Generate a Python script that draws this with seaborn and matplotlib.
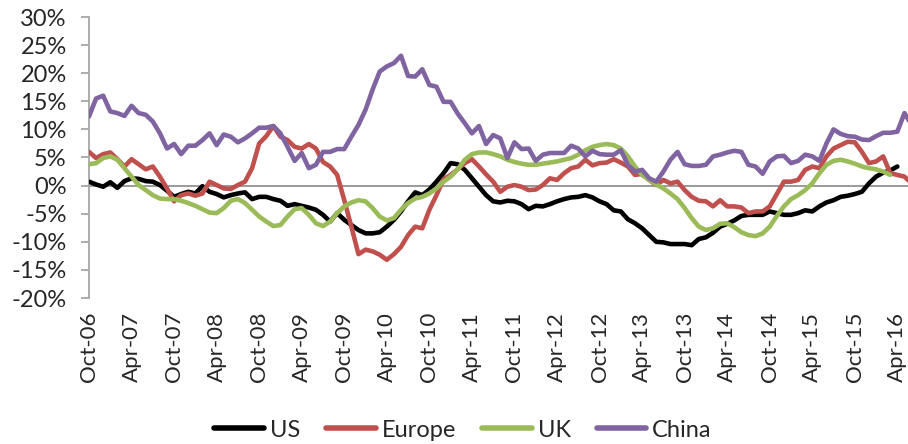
import numpy as np
import pandas as pd
import matplotlib
matplotlib.use("Agg")
import matplotlib.pyplot as plt
import seaborn as sns

# monthly series, Oct-06 .. Jun-16 (values in %)
months = pd.date_range("2006-10-01", periods=117, freq="MS")

us = [0.7, 0.2, -0.2, 0.6, -0.4, 0.8, 1.3, 1.2, 0.8, 0.7,
      0.1, -0.9, -2.0, -1.5, -1.1, -1.4, -0.1, -1.1, -1.5, -2.1,
      -1.7, -1.4, -1.2, -2.4, -2.0, -2.0, -2.4, -2.7, -3.6, -3.3,
      -3.6, -3.9, -4.3, -5.2, -6.4, -4.9, -6.1, -7.0, -7.9, -8.5,
      -8.5, -8.3, -7.3, -6.1, -4.6, -2.8, -1.2, -1.7, -0.7, 0.7,
      2.2, 4.0, 3.8, 2.8, 1.3, -0.2, -1.7, -2.8, -3.0, -2.7,
      -2.8, -3.3, -4.2, -3.6, -3.7, -3.3, -2.8, -2.4, -2.1, -2.0,
      -1.7, -2.1, -2.8, -3.3, -4.4, -4.6, -6.0, -6.7, -7.6, -8.8,
      -10.0, -10.1, -10.4, -10.4, -10.4, -10.6, -9.5, -9.2, -8.4, -7.3,
      -6.8, -6.2, -5.4, -5.2, -5.2, -5.2, -4.6, -4.9, -5.2, -5.2,
      -4.9, -4.4, -4.6, -3.7, -3.0, -2.6, -2.0, -1.8, -1.5, -1.1,
      0.4, 1.6, 2.3, 2.7, 3.4] + [np.nan] * 2

europe = [6.0, 4.9, 5.6, 5.9, 4.7, 3.4, 4.7, 3.8, 2.9, 3.4,
          1.6, -0.5, -2.8, -1.7, -1.4, -1.8, -1.4, 0.7, 0.1, -0.5,
          -0.6, 0.1, 0.7, 3.1, 7.5, 8.8, 10.6, 8.7, 8.1, 6.9,
          6.6, 7.4, 6.6, 4.2, 3.4, 1.9, -2.6, -7.3, -12.2, -11.4,
          -11.7, -12.3, -13.2, -12.2, -10.9, -8.8, -7.3, -7.6, -4.3, -1.7,
          1.1, 1.9, 2.9, 4.0, 4.7, 3.4, 2.0, 0.7, -1.1, -0.2,
          0.1, -0.2, -0.8, -0.7, 0.1, 1.3, 1.0, 2.2, 3.1, 3.4,
          4.6, 3.6, 4.0, 4.1, 4.7, 4.1, 3.4, 1.9, 2.1, 1.0,
          0.1, 1.0, 0.4, 0.7, -0.8, -2.0, -2.7, -2.8, -3.7, -2.6,
          -3.7, -3.7, -3.9, -4.9, -4.6, -4.6, -3.7, -1.5, 0.7, 0.7,
          1.0, 2.8, 3.4, 3.1, 5.2, 6.6, 7.2, 7.8, 7.7, 6.0,
          4.0, 4.3, 5.2, 2.2, 1.9, 1.6, 0.4]

uk = [3.8, 4.0, 4.9, 5.2, 4.6, 3.1, 1.6, 0.1, -0.8, -1.7,
      -2.3, -2.4, -2.4, -2.7, -3.1, -3.6, -4.2, -4.8, -4.9, -4.0,
      -2.7, -2.4, -3.1, -4.3, -5.5, -6.4, -7.2, -7.0, -5.5, -4.2,
      -4.0, -5.2, -6.7, -7.2, -6.4, -4.9, -3.7, -3.0, -2.6, -2.8,
      -4.0, -5.5, -6.2, -5.8, -4.3, -3.1, -2.3, -2.0, -1.4, -0.5,
      0.7, 1.6, 2.9, 4.6, 5.6, 5.9, 5.9, 5.6, 5.2, 4.6,
      4.2, 3.9, 3.7, 3.7, 3.9, 4.1, 4.3, 4.6, 4.9, 5.5,
      6.3, 6.9, 7.2, 7.4, 7.2, 6.6, 5.2, 3.4, 1.9, 1.0,
      0.2, -0.5, -1.4, -2.4, -4.0, -5.8, -7.3, -7.9, -7.6, -6.8,
      -6.7, -7.4, -8.3, -8.8, -9.0, -8.5, -7.3, -5.4, -3.7, -2.4,
      -1.7, -0.8, 0.4, 2.2, 3.7, 4.4, 4.6, 4.3, 3.9, 3.4,
      3.1, 2.9, 2.5, 1.9] + [np.nan] * 3

china = [12.3, 15.5, 16.0, 13.2, 12.9, 12.4, 14.2, 12.9, 12.6, 11.4,
         9.3, 6.6, 7.4, 5.6, 7.1, 7.1, 8.1, 9.3, 7.2, 9.1,
         8.7, 7.7, 8.4, 9.3, 10.3, 10.3, 10.6, 9.3, 6.9, 4.4,
         5.8, 3.1, 3.7, 6.0, 6.0, 6.5, 6.5, 8.7, 10.8, 13.5,
         17.1, 20.3, 21.2, 21.8, 23.1, 19.5, 19.4, 20.7, 17.9, 17.6,
         14.9, 14.9, 12.8, 11.1, 9.3, 10.6, 7.4, 9.0, 8.4, 4.9,
         7.7, 6.5, 6.6, 4.4, 5.5, 5.8, 5.8, 5.8, 7.1, 6.6,
         5.2, 6.2, 5.6, 5.5, 5.5, 6.3, 3.7, 2.5, 2.8, 1.3,
         0.7, 2.5, 4.6, 6.0, 3.8, 3.5, 3.5, 3.7, 5.2, 5.5,
         5.9, 6.2, 6.0, 3.7, 3.4, 2.1, 4.3, 5.2, 5.3, 4.0,
         4.4, 5.5, 5.2, 4.4, 7.5, 10.0, 9.2, 8.8, 8.7, 8.2,
         8.1, 8.8, 9.4, 9.4, 9.6, 12.9, 10.8]

series_names = ["US", "Europe", "UK", "China"]
colors = ["#000000", "#C0504D", "#9BBB59", "#8064A2"]

tick_labels = ["Oct-06", "Apr-07", "Oct-07", "Apr-08", "Oct-08", "Apr-09",
               "Oct-09", "Apr-10", "Oct-10", "Apr-11", "Oct-11", "Apr-12",
               "Oct-12", "Apr-13", "Oct-13", "Apr-14", "Oct-14", "Apr-15",
               "Oct-15", "Apr-16"]

df = pd.DataFrame({"month": np.arange(len(months)),
                   "US": us, "Europe": europe, "UK": uk, "China": china})
long_df = df.melt(id_vars="month", var_name="region", value_name="value")

sns.set_style("white")
plt.rcParams["font.family"] = ["Lato", "DejaVu Sans"]

fig = plt.figure(figsize=(9.08, 4.44), dpi=100)
ax = fig.add_axes([89 / 908, 1 - 298 / 444, 1 - 89 / 908, 281 / 444])

ax.axhline(0, color="#9a9a9a", lw=1.4, zorder=1)
sns.lineplot(data=long_df, x="month", y="value", hue="region",
             hue_order=series_names, palette=colors, lw=3.3,
             legend=False, ax=ax, zorder=3)

ax.set_xlim(0, 115.5)
ax.set_ylim(-20, 30)
ax.set_yticks(np.arange(-20, 31, 5))
ax.set_yticklabels([f"{v}%" for v in range(-20, 31, 5)], fontsize=17)
ax.set_xticks(np.arange(0, 115, 6))
ax.set_xticklabels(tick_labels, rotation=90, fontsize=16)
ax.set_xlabel("")
ax.set_ylabel("")

for side in ["top", "right", "bottom"]:
    ax.spines[side].set_visible(False)
ax.spines["left"].set_color("#a6a6a6")
ax.spines["left"].set_linewidth(1.3)
ax.tick_params(axis="y", direction="out", length=6, width=1.3,
               color="#a6a6a6", pad=10, left=True)
ax.tick_params(axis="x", length=0, pad=10)

handles = [plt.Line2D([0], [0], color=c, lw=4) for c in colors]
fig.legend(handles, series_names, loc="lower center", ncol=4,
           bbox_to_anchor=(0.51, -0.04), frameon=False, fontsize=17,
           handlelength=2.1, handletextpad=0.25, columnspacing=1.1)

fig.savefig("out.png", dpi=100)
